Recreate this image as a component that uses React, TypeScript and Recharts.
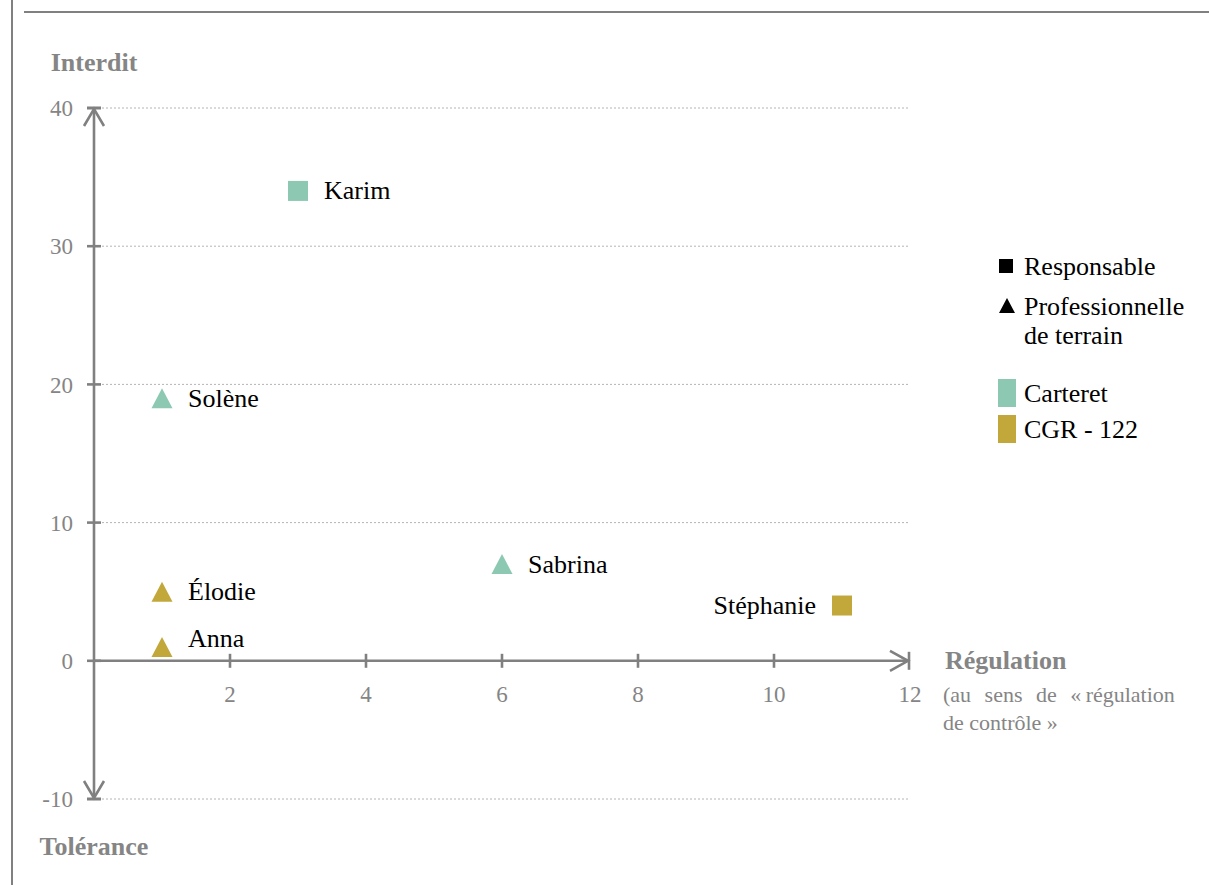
import React from 'react';
import { ScatterChart, Scatter, XAxis, YAxis, CartesianGrid, ReferenceLine, ReferenceDot } from 'recharts';

const NAMES = ['Karim', 'Solène', 'Sabrina', 'Élodie', 'Anna', 'Stéphanie'];
const REGULATION = [3, 1, 6, 1, 1, 11];
const INTERDIT = [34, 19, 7, 5, 1, 4];
const ROLES = ['Responsable', 'Professionnelle', 'Professionnelle', 'Professionnelle', 'Professionnelle', 'Responsable'];
const SITES = ['Carteret', 'Carteret', 'Carteret', 'CGR - 122', 'CGR - 122', 'CGR - 122'];

const X_TICKS = [2, 4, 6, 8, 10, 12];
const Y_TICKS = [-10, 0, 10, 20, 30, 40];

const SITE_COLORS: Record<string, string> = { Carteret: '#8CC8B2', 'CGR - 122': '#C2A83A' };
const LABEL_SIDE: Record<string, string> = { Stéphanie: 'left' };
const LABEL_DY: Record<string, number> = { Anna: -8 };

const FONT = '"Liberation Serif", "Times New Roman", serif';
const GRAY = '#858585';
const AXIS = '#808080';
const SW = 2.6;

const data = NAMES.map((name, i) => ({
  name,
  x: REGULATION[i],
  y: INTERDIT[i],
  role: ROLES[i],
  site: SITES[i],
}));

const PointShape = (props: any) => {
  const { cx, cy, payload } = props;
  if (cx == null || cy == null) return null;
  const color = SITE_COLORS[payload.site];
  const left = LABEL_SIDE[payload.name] === 'left';
  const dy = LABEL_DY[payload.name] || 0;
  const marker =
    payload.role === 'Responsable' ? (
      <rect x={cx - 10} y={cy - 10} width={20} height={20} fill={color} />
    ) : (
      <polygon points={`${cx},${cy - 10} ${cx + 10.5},${cy + 10} ${cx - 10.5},${cy + 10}`} fill={color} />
    );
  return (
    <g>
      {marker}
      <text
        x={left ? cx - 26 : cx + 26}
        y={cy + dy}
        textAnchor={left ? 'end' : 'start'}
        dominantBaseline="central"
        fontFamily={FONT}
        fontSize={26}
        fill="#000"
      >
        {payload.name}
      </text>
    </g>
  );
};

const YTickBar = (props: any) => {
  const { cx, cy } = props;
  return <line x1={cx - 7} x2={cx + 7} y1={cy} y2={cy} stroke={AXIS} strokeWidth={SW} />;
};

const makeXTick = (label: number, last: boolean) => (props: any) => {
  const { cx, cy } = props;
  return (
    <g>
      {!last && <line x1={cx} x2={cx} y1={cy - 7} y2={cy + 7} stroke={AXIS} strokeWidth={SW} />}
      <text x={cx} y={cy + 34} textAnchor="middle" dominantBaseline="central" fontFamily={FONT} fontSize={23} fill={GRAY}>
        {label}
      </text>
    </g>
  );
};

const TopArrow = (props: any) => {
  const { cx, cy } = props;
  return (
    <g>
      <line x1={cx - 7} x2={cx + 7} y1={cy} y2={cy} stroke={AXIS} strokeWidth={SW} />
      <polyline points={`${cx - 10},${cy + 18} ${cx},${cy + 1} ${cx + 10},${cy + 18}`} fill="none" stroke={AXIS} strokeWidth={SW} />
      <text x={cx} y={cy - 46} textAnchor="middle" dominantBaseline="central" fontFamily={FONT} fontSize={26} fontWeight="bold" fill={GRAY}>
        Interdit
      </text>
    </g>
  );
};

const BottomArrow = (props: any) => {
  const { cx, cy } = props;
  return (
    <g>
      <line x1={cx - 7} x2={cx + 7} y1={cy} y2={cy} stroke={AXIS} strokeWidth={SW} />
      <polyline points={`${cx - 10},${cy - 18} ${cx},${cy - 1} ${cx + 10},${cy - 18}`} fill="none" stroke={AXIS} strokeWidth={SW} />
      <text x={cx} y={cy + 47} textAnchor="middle" dominantBaseline="central" fontFamily={FONT} fontSize={26} fontWeight="bold" fill={GRAY}>
        Tolérance
      </text>
    </g>
  );
};

const RightArrow = (props: any) => {
  const { cx, cy } = props;
  return (
    <g>
      <line x1={cx - 1} x2={cx - 1} y1={cy - 9} y2={cy + 9} stroke={AXIS} strokeWidth={SW} />
      <polyline points={`${cx - 20},${cy - 10} ${cx - 2},${cy} ${cx - 20},${cy + 10}`} fill="none" stroke={AXIS} strokeWidth={SW} />
      <text x={cx + 35} y={cy} textAnchor="start" dominantBaseline="central" fontFamily={FONT} fontSize={26} fontWeight="bold" fill={GRAY}>
        Régulation
      </text>
      <text x={cx + 33} y={cy + 34} textAnchor="start" dominantBaseline="central" fontFamily={FONT} fontSize={22} fill={GRAY} wordSpacing={8}>
        (au sens de «{'\u202F'}régulation
      </text>
      <text x={cx + 33} y={cy + 62} textAnchor="start" dominantBaseline="central" fontFamily={FONT} fontSize={22} fill={GRAY}>
        de contrôle »
      </text>
    </g>
  );
};

const Overlay = () => (
  <svg width={1209} height={885} style={{ position: 'absolute', left: 0, top: 0, pointerEvents: 'none' }}>
    <line x1={12} x2={12} y1={0} y2={885} stroke={AXIS} strokeWidth={2} />
    <line x1={24} x2={1209} y1={12} y2={12} stroke={AXIS} strokeWidth={2} />
    <rect x={999} y={259} width={14} height={14} fill="#000" />
    <text x={1024} y={266} dominantBaseline="central" fontFamily={FONT} fontSize={26} fill="#000">Responsable</text>
    <polygon points="1007,298 1015,313 999,313" fill="#000" />
    <text x={1024} y={306} dominantBaseline="central" fontFamily={FONT} fontSize={26} fill="#000">Professionnelle</text>
    <text x={1024} y={335} dominantBaseline="central" fontFamily={FONT} fontSize={26} fill="#000">de terrain</text>
    <rect x={998} y={379} width={18} height={28} fill={SITE_COLORS['Carteret']} />
    <text x={1024} y={393} dominantBaseline="central" fontFamily={FONT} fontSize={26} fill="#000">Carteret</text>
    <rect x={998} y={415} width={18} height={28} fill={SITE_COLORS['CGR - 122']} />
    <text x={1024} y={429} dominantBaseline="central" fontFamily={FONT} fontSize={26} fill="#000">CGR - 122</text>
  </svg>
);

export default function App() {
  return (
    <div style={{ position: 'absolute', left: 0, top: 0, width: 1209, height: 885, background: '#fff' }}>
      <ScatterChart width={1209} height={885} margin={{ top: 108, right: 299, bottom: 86, left: 34 }}>
        <CartesianGrid horizontal vertical={false} strokeDasharray="2 2" stroke="#b4b4b4" />
        <XAxis type="number" dataKey="x" domain={[0, 12]} ticks={X_TICKS} hide />
        <YAxis
          type="number"
          dataKey="y"
          domain={[-10, 40]}
          ticks={Y_TICKS}
          interval={0}
          width={60}
          axisLine={false}
          tickLine={false}
          tickMargin={15}
          tick={{ fill: GRAY, fontSize: 23, fontFamily: FONT }}
        />
        <ReferenceLine x={0} stroke={AXIS} strokeWidth={SW} />
        <ReferenceLine y={0} stroke={AXIS} strokeWidth={SW} />
        {Y_TICKS.map((v) => (
          <ReferenceDot key={`yt${v}`} x={0} y={v} r={0} shape={YTickBar} />
        ))}
        {X_TICKS.map((v, i) => (
          <ReferenceDot key={`xt${v}`} x={v} y={0} r={0} shape={makeXTick(v, i === X_TICKS.length - 1)} />
        ))}
        <ReferenceDot x={0} y={40} r={0} shape={TopArrow} />
        <ReferenceDot x={0} y={-10} r={0} shape={BottomArrow} />
        <ReferenceDot x={12} y={0} r={0} shape={RightArrow} />
        <Scatter data={data} isAnimationActive={false} shape={PointShape} />
      </ScatterChart>
      <Overlay />
    </div>
  );
}
